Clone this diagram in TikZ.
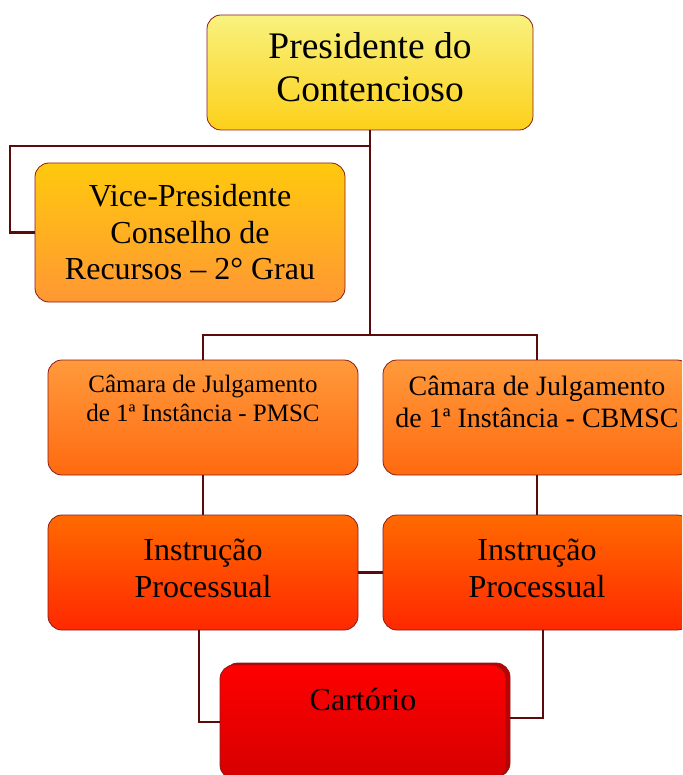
\documentclass[tikz,border=0pt]{standalone}
\usepackage{fontspec}
\usetikzlibrary{shadows}

\setmainfont{Liberation Serif}

\definecolor{boxline}{HTML}{8B1A1A}
\definecolor{linkline}{HTML}{5C0B0B}
\definecolor{presTop}{HTML}{F8F27E}
\definecolor{presBot}{HTML}{FDD01A}
\definecolor{viceTop}{HTML}{FFC90E}
\definecolor{viceBot}{HTML}{FF9733}
\definecolor{camTop}{HTML}{FF9A3C}
\definecolor{camBot}{HTML}{FF6A10}
\definecolor{instTop}{HTML}{FF6A00}
\definecolor{instBot}{HTML}{FF2800}
\definecolor{cartTop}{HTML}{FF0000}
\definecolor{cartBot}{HTML}{D50000}
\definecolor{cartCopy}{HTML}{C00000}

\newcommand{\toptext}[2]{\parbox[c][#1][t]{284pt}{\centering #2}}

\begin{document}
\begin{tikzpicture}[x=1pt, y=-1pt,
        box/.style={draw=boxline, line width=0.8pt, rounded corners=14pt, inner sep=0pt, align=center},
        link/.style={draw=linkline, line width=2.6pt}]
        % Frame:
        \clip (0, 0) rectangle (682, 775);

        % Boxes:
        \node[box, minimum width=326, minimum height=115, top color=presTop, bottom color=presBot,
              font=\fontsize{37.5}{43}\selectfont] (pres) at (370, 72.5) {\toptext{80pt}{Presidente do\\Contencioso}};
        \node[box, minimum width=310, minimum height=139, top color=viceTop, bottom color=viceBot,
              font=\fontsize{32}{36.5}\selectfont] (vice) at (190, 232.5) {Vice-Presidente\\Conselho de\\Recursos – 2° Grau};
        \node[box, minimum width=310, minimum height=115, top color=camTop, bottom color=camBot,
              font=\fontsize{25}{29}\selectfont] (pmsc) at (203, 417.5) {\toptext{84pt}{Câmara de Julgamento\\de 1ª Instância - PMSC}};
        \node[box, minimum width=308, minimum height=115, top color=camTop, bottom color=camBot,
              font=\fontsize{28}{32}\selectfont] (cbmsc) at (537, 417.5) {\toptext{82pt}{Câmara de Julgamento\\de 1ª Instância - CBMSC}};
        \node[box, minimum width=310, minimum height=115, top color=instTop, bottom color=instBot,
              font=\fontsize{32}{37}\selectfont] (instr1) at (203, 572.5) {\toptext{68pt}{Instrução\\Processual}};
        \node[box, minimum width=308, minimum height=115, top color=instTop, bottom color=instBot,
              font=\fontsize{32}{37}\selectfont] (instr2) at (537, 572.5) {\toptext{68pt}{Instrução\\Processual}};
        \node[box, minimum width=286, minimum height=114, top color=cartTop, bottom color=cartBot,
              copy shadow={shadow xshift=4pt, shadow yshift=2pt, fill=cartCopy, draw=boxline},
              font=\fontsize{32}{37}\selectfont] (cart) at (363, 722) {\toptext{68pt}{Cartório}};

        % Junctions:
        \coordinate (vj) at (10, 146);
        \coordinate (cj) at (370, 335);

        % Links:
        \draw[link] (pres.south) |- (vj) |- (vice.west);
        \draw[link] (pres.south) -- (cj);
        \draw[link] (pmsc.north) |- (cj) -| (cbmsc.north);
        \draw[link] (pmsc.south) -- (instr1.north);
        \draw[link] (cbmsc.south) -- (instr2.north);
        \draw[link] (instr1.east) -- (instr2.west);
        \draw[link] ([xshift=-4pt]instr1.south) |- (cart.west);
        \draw[link] ([xshift=6pt]instr2.south) |- ([xshift=4pt, yshift=4pt]cart.east);
    \end{tikzpicture}
\end{document}
